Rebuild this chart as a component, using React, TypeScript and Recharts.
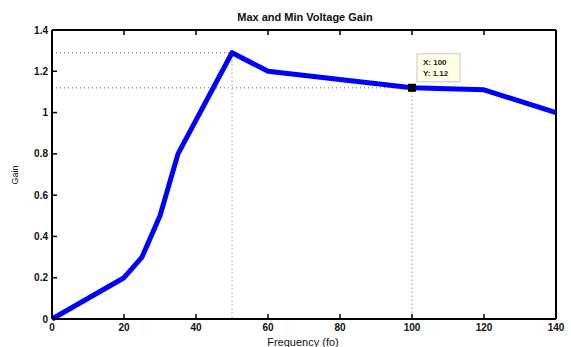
import React from 'react';
import { LineChart, Line, XAxis, YAxis, ReferenceLine, ReferenceDot } from 'recharts';

const freq = [0, 20, 25, 30, 35, 50, 60, 100, 120, 140];
const gain = [0, 0.2, 0.3, 0.5, 0.8, 1.29, 1.2, 1.12, 1.11, 1.0];
const xTicks = [0, 20, 40, 60, 80, 100, 120, 140];
const yTicks = [0, 0.2, 0.4, 0.6, 0.8, 1, 1.2, 1.4];
const peakX = 50;
const peakY = 1.29;
const tipX = 100;
const tipY = 1.12;
const tipLines = ['X: 100', 'Y: 1.12'];
const title = 'Max and Min Voltage Gain';
const xLabel = 'Frequency (fo)';
const yLabel = 'Gain';

const data = freq.map((f, i) => ({ f, g: gain[i] }));

const FONT = '"Liberation Sans", Arial, Helvetica, sans-serif';
const TICK = 5;

const BottomTick = (p: any) => {
  const { x, y, payload } = p;
  const v = payload.value;
  const inner = v !== 0 && v !== 140;
  return (
    <g>
      {inner && <line x1={x} y1={y} x2={x} y2={y - TICK} stroke="#000" strokeWidth={1.5} />}
      <text x={x} y={y + 12} textAnchor="middle" fontSize={10} fontWeight="bold" fontFamily={FONT} fill="#111">
        {v}
      </text>
    </g>
  );
};

const TopTick = (p: any) => {
  const { x, y, payload } = p;
  const v = payload.value;
  if (v === 0 || v === 140) return <g />;
  return <line x1={x} y1={y} x2={x} y2={y + TICK} stroke="#000" strokeWidth={1.5} />;
};

const LeftTick = (p: any) => {
  const { x, y, payload } = p;
  const v = payload.value;
  const inner = v !== 0 && v !== 1.4;
  return (
    <g>
      {inner && <line x1={x} y1={y} x2={x + TICK} y2={y} stroke="#000" strokeWidth={1.5} />}
      <text x={x - 4} y={y + 3.5} textAnchor="end" fontSize={10} fontWeight="bold" fontFamily={FONT} fill="#111">
        {String(v)}
      </text>
    </g>
  );
};

const RightTick = (p: any) => {
  const { x, y, payload } = p;
  const v = payload.value;
  if (v === 0 || v === 1.4) return <g />;
  return <line x1={x} y1={y} x2={x - TICK} y2={y} stroke="#000" strokeWidth={1.5} />;
};

const TipShape = (p: any) => {
  const { cx, cy } = p;
  return (
    <g>
      <rect x={cx + 5} y={cy - 34} width={43} height={28} fill="#ffffe6" stroke="#c8c8c8" strokeWidth={1} />
      <text x={cx + 11} y={cy - 23} fontSize={8} fontWeight="bold" fontFamily={FONT} fill="#222">
        {tipLines[0]}
      </text>
      <text x={cx + 11} y={cy - 12} fontSize={8} fontWeight="bold" fontFamily={FONT} fill="#222">
        {tipLines[1]}
      </text>
      <rect x={cx - 4} y={cy - 4} width={8} height={8} fill="#000" />
    </g>
  );
};

export default function App() {
  return (
    <div style={{ position: 'absolute', left: 0, top: 0, width: 571, height: 347, background: '#fff' }}>
      <LineChart
        width={571}
        height={347}
        data={data}
        margin={{ top: 29, right: 14, bottom: 0, left: 0 }}
      >
        <XAxis
          xAxisId="b"
          dataKey="f"
          type="number"
          domain={[0, 140]}
          ticks={xTicks}
          interval={0}
          height={28}
          tickSize={0}
          tickMargin={0}
          tickLine={false}
          axisLine={{ stroke: '#000', strokeWidth: 2 }}
          tick={<BottomTick />}
        />
        <XAxis
          xAxisId="t"
          orientation="top"
          dataKey="f"
          type="number"
          domain={[0, 140]}
          ticks={xTicks}
          interval={0}
          height={1}
          tickSize={0}
          tickMargin={0}
          tickLine={false}
          axisLine={false}
          tick={<TopTick />}
        />
        <YAxis
          yAxisId="l"
          type="number"
          domain={[0, 1.4]}
          ticks={yTicks}
          interval={0}
          width={52}
          tickSize={0}
          tickMargin={0}
          tickLine={false}
          axisLine={{ stroke: '#000', strokeWidth: 2 }}
          tick={<LeftTick />}
        />
        <YAxis
          yAxisId="r"
          orientation="right"
          type="number"
          domain={[0, 1.4]}
          ticks={yTicks}
          interval={0}
          width={1}
          tickSize={0}
          tickMargin={0}
          tickLine={false}
          axisLine={false}
          tick={<RightTick />}
        />
        <ReferenceLine xAxisId="b" yAxisId="l" y={1.4} stroke="#000" strokeWidth={2} />
        <ReferenceLine xAxisId="b" yAxisId="l" x={140} stroke="#000" strokeWidth={2} />
        <ReferenceLine
          xAxisId="b"
          yAxisId="l"
          segment={[{ x: 0, y: peakY }, { x: peakX, y: peakY }]}
          stroke="#666"
          strokeDasharray="1 3"
          strokeWidth={1}
        />
        <ReferenceLine
          xAxisId="b"
          yAxisId="l"
          segment={[{ x: peakX, y: peakY }, { x: peakX, y: 0 }]}
          stroke="#666"
          strokeDasharray="1 3"
          strokeWidth={1}
        />
        <ReferenceLine
          xAxisId="b"
          yAxisId="l"
          segment={[{ x: 0, y: tipY }, { x: tipX, y: tipY }]}
          stroke="#666"
          strokeDasharray="1 3"
          strokeWidth={1}
        />
        <ReferenceLine
          xAxisId="b"
          yAxisId="l"
          segment={[{ x: tipX, y: tipY }, { x: tipX, y: 0 }]}
          stroke="#666"
          strokeDasharray="1 3"
          strokeWidth={1}
        />
        <Line
          xAxisId="b"
          yAxisId="l"
          dataKey="g"
          type="linear"
          stroke="#0000ff"
          strokeWidth={5}
          dot={false}
          activeDot={false}
          strokeLinejoin="round"
          isAnimationActive={false}
        />
        <ReferenceDot xAxisId="b" yAxisId="l" x={tipX} y={tipY} r={4} shape={<TipShape />} />
        <text x={305} y={21} textAnchor="middle" fontSize={11} fontWeight="bold" fontFamily={FONT} fill="#111">
          {title}
        </text>
        <text x={303} y={346} textAnchor="middle" fontSize={11} fontFamily={FONT} fill="#111">
          {xLabel}
        </text>
        <text
          x={18}
          y={175}
          textAnchor="middle"
          fontSize={9}
          fontFamily={FONT}
          fill="#111"
          transform="rotate(-90 18 175)"
        >
          {yLabel}
        </text>
      </LineChart>
    </div>
  );
}
